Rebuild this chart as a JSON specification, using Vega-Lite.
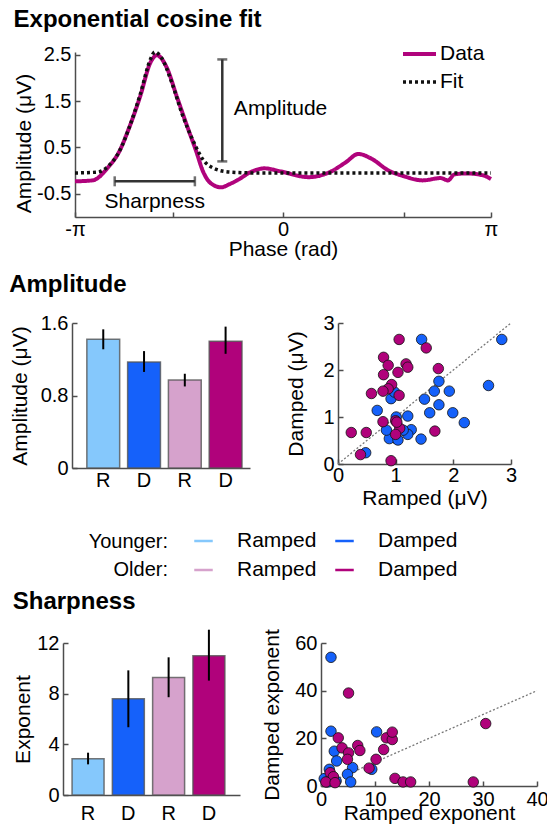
{
  "$schema": "https://vega.github.io/schema/vega-lite/v6.json",
  "background": "white",
  "padding": {"left": 9, "top": 8, "right": 5, "bottom": 5},
  "config": {
    "font": "Liberation Sans",
    "view": {"stroke": null},
    "axis": {
      "labelFont": "Liberation Sans", "titleFont": "Liberation Sans",
      "labelFontSize": 20, "titleFontSize": 21, "titleFontWeight": "normal",
      "labelColor": "#000", "titleColor": "#000",
      "domainColor": "#4d4d4d", "tickColor": "#4d4d4d", "domainWidth": 1.5, "tickWidth": 1.5,
      "tickSize": -5, "labelPadding": 9, "grid": false, "labelFlush": false, "labelOverlap": false
    },
    "legend": {"labelFont": "Liberation Sans", "titleFont": "Liberation Sans"},
    "title": {"font": "Liberation Sans", "fontSize": 24, "fontWeight": "bold", "anchor": "start", "frame": "bounds", "color": "#000"}
  },
  "resolve": {"scale": {"color": "independent", "strokeDash": "independent", "strokeWidth": "independent"}, "legend": {"color": "independent", "strokeDash": "independent"}},
  "spacing": 14,
  "align": "none",
  "vconcat": [
    {
      "title": {"text": "Exponential cosine fit", "offset": 12},
      "width": 428, "height": 165,
      "layer": [
        {
          "data": {"values": [
            {"series": "Data", "phase": -3.1416, "v": -0.23},
            {"series": "Data", "phase": -2.877, "v": -0.21},
            {"series": "Data", "phase": -2.637, "v": 0.08},
            {"series": "Data", "phase": -2.478, "v": 0.40},
            {"series": "Data", "phase": -2.320, "v": 0.94},
            {"series": "Data", "phase": -2.160, "v": 1.59},
            {"series": "Data", "phase": -2.000, "v": 2.34},
            {"series": "Data", "phase": -1.905, "v": 2.49},
            {"series": "Data", "phase": -1.761, "v": 2.24},
            {"series": "Data", "phase": -1.602, "v": 1.59},
            {"series": "Data", "phase": -1.443, "v": 0.94},
            {"series": "Data", "phase": -1.316, "v": 0.44},
            {"series": "Data", "phase": -1.204, "v": -0.03},
            {"series": "Data", "phase": -1.092, "v": -0.27},
            {"series": "Data", "phase": -0.933, "v": -0.36},
            {"series": "Data", "phase": -0.806, "v": -0.29},
            {"series": "Data", "phase": -0.693, "v": -0.21},
            {"series": "Data", "phase": -0.486, "v": -0.03},
            {"series": "Data", "phase": -0.280, "v": 0.05},
            {"series": "Data", "phase": -0.056, "v": -0.01},
            {"series": "Data", "phase": 0.390, "v": -0.14},
            {"series": "Data", "phase": 0.708, "v": -0.03},
            {"series": "Data", "phase": 0.948, "v": 0.18},
            {"series": "Data", "phase": 1.138, "v": 0.36},
            {"series": "Data", "phase": 1.346, "v": 0.25},
            {"series": "Data", "phase": 1.585, "v": 0.01},
            {"series": "Data", "phase": 1.824, "v": -0.12},
            {"series": "Data", "phase": 2.110, "v": -0.21},
            {"series": "Data", "phase": 2.381, "v": -0.16},
            {"series": "Data", "phase": 2.493, "v": -0.21},
            {"series": "Data", "phase": 2.589, "v": -0.08},
            {"series": "Data", "phase": 2.781, "v": -0.06},
            {"series": "Data", "phase": 3.019, "v": -0.10},
            {"series": "Data", "phase": 3.1416, "v": -0.18},
            {"series": "Fit", "phase": -3.1416, "v": -0.05},
            {"series": "Fit", "phase": -2.798, "v": -0.03},
            {"series": "Fit", "phase": -2.637, "v": 0.10},
            {"series": "Fit", "phase": -2.478, "v": 0.40},
            {"series": "Fit", "phase": -2.320, "v": 0.94},
            {"series": "Fit", "phase": -2.160, "v": 1.63},
            {"series": "Fit", "phase": -2.000, "v": 2.41},
            {"series": "Fit", "phase": -1.937, "v": 2.56},
            {"series": "Fit", "phase": -1.841, "v": 2.45},
            {"series": "Fit", "phase": -1.682, "v": 1.91},
            {"series": "Fit", "phase": -1.523, "v": 1.22},
            {"series": "Fit", "phase": -1.363, "v": 0.66},
            {"series": "Fit", "phase": -1.204, "v": 0.23},
            {"series": "Fit", "phase": -1.045, "v": 0.05},
            {"series": "Fit", "phase": -0.806, "v": -0.03},
            {"series": "Fit", "phase": -0.407, "v": -0.05},
            {"series": "Fit", "phase": 3.1416, "v": -0.05}
          ]},
          "mark": {"type": "line", "interpolate": "monotone"},
          "encoding": {
            "x": {"field": "phase", "type": "quantitative", "title": "Phase (rad)",
              "scale": {"domain": [-3.14159, 3.14159], "range": [12, 428], "nice": false, "zero": false},
              "axis": {"values": [-3.14159, -1.665, 0, 1.832, 3.14159],
                "labelExpr": "datum.value < -3 ? '-π' : (datum.value > 3 ? 'π' : (datum.value == 0 ? '0' : ''))",
                "labelPadding": 7, "titlePadding": -1}},
            "y": {"field": "v", "type": "quantitative", "title": "Amplitude (μV)",
              "scale": {"domain": [-1, 2.56], "nice": false, "zero": false},
              "axis": {"offset": -12, "values": [-0.5, 0, 0.5, 1, 1.5, 2, 2.5],
                "labelExpr": "abs(round(datum.value*2)) % 2 == 1 ? (datum.value < 0 ? '-' : '') + format(abs(datum.value), '.1f') : ''",
                "titlePadding": 2, "titleY": 91}},
            "color": {"field": "series", "type": "nominal",
              "scale": {"domain": ["Data", "Fit"], "range": ["#b0037c", "#111111"]},
              "legend": {"orient": "none", "legendX": 338, "legendY": -8, "title": null,
                "symbolType": "stroke", "symbolSize": 1089, "symbolStrokeWidth": 4,
                "labelFontSize": 21, "labelColor": "#000", "labelOffset": 2, "clipHeight": 20, "rowPadding": 7}},
            "strokeDash": {"field": "series", "type": "nominal",
              "scale": {"domain": ["Data", "Fit"], "range": [[1, 0], [3, 3]]}},
            "strokeWidth": {"field": "series", "type": "nominal",
              "scale": {"domain": ["Data", "Fit"], "range": [4, 3.5]}, "legend": null}
          }
        },
        {
          "data": {"values": [{"x": -0.917, "lo": 0.2, "hi": 2.4}]},
          "mark": {"type": "errorbar", "ticks": true, "size": 10, "thickness": 2.5, "color": "#333"},
          "encoding": {
            "x": {"field": "x", "type": "quantitative", "title": "Phase (rad)"},
            "y": {"field": "lo", "type": "quantitative", "title": "Amplitude (μV)"},
            "y2": {"field": "hi"}
          }
        },
        {
          "data": {"values": [{"a": -2.542, "b": -1.331, "y": -0.23}]},
          "mark": {"type": "errorbar", "ticks": true, "size": 10, "thickness": 2.5, "color": "#333"},
          "encoding": {
            "x": {"field": "a", "type": "quantitative", "title": "Phase (rad)"},
            "x2": {"field": "b"},
            "y": {"field": "y", "type": "quantitative", "title": "Amplitude (μV)"}
          }
        },
        {
          "data": {"values": [{"t": "Amplitude", "x": -0.742, "y": 1.33}]},
          "mark": {"type": "text", "align": "left", "baseline": "middle", "fontSize": 21, "font": "Liberation Sans", "color": "#000"},
          "encoding": {
            "x": {"field": "x", "type": "quantitative", "title": "Phase (rad)"},
            "y": {"field": "y", "type": "quantitative", "title": "Amplitude (μV)"},
            "text": {"field": "t"}
          }
        },
        {
          "data": {"values": [{"t": "Sharpness", "x": -1.937, "y": -0.68}]},
          "mark": {"type": "text", "align": "center", "baseline": "middle", "fontSize": 21, "font": "Liberation Sans", "color": "#000"},
          "encoding": {
            "x": {"field": "x", "type": "quantitative", "title": "Phase (rad)"},
            "y": {"field": "y", "type": "quantitative", "title": "Amplitude (μV)"},
            "text": {"field": "t"}
          }
        }
      ]
    },
    {
      "spacing": 81,
      "align": "none",
      "vconcat": [
        {
          "title": {"text": "Amplitude", "offset": 16},
          "spacing": 35,
          "hconcat": [
            {
              "width": 187, "height": 145,
              "data": {"values": [
                {"g": "YR", "v": 1.42, "lo": 1.31, "hi": 1.53},
                {"g": "YD", "v": 1.17, "lo": 1.06, "hi": 1.29},
                {"g": "OR", "v": 0.97, "lo": 0.90, "hi": 1.04},
                {"g": "OD", "v": 1.40, "lo": 1.26, "hi": 1.56}
              ]},
              "layer": [
                {
                  "mark": {"type": "bar", "stroke": "#555", "strokeWidth": 1.5, "strokeOpacity": 0.8},
                  "encoding": {
                    "x": {"field": "g", "type": "nominal", "sort": null, "title": null,
                      "scale": {"domain": ["YR", "YD", "OR", "OD"], "range": [9, 187], "paddingInner": 0.195, "paddingOuter": 0.28, "align": 0.65},
                      "axis": {"ticks": false, "labelAngle": 0, "labelPadding": 2,
                        "labelExpr": "substring(datum.label, 1, 2)"}},
                    "y": {"field": "v", "type": "quantitative", "title": "Amplitude (μV)",
                      "scale": {"domain": [0, 1.6], "nice": false},
                      "axis": {"offset": -9, "values": [0, 0.2, 0.4, 0.6, 0.8, 1, 1.2, 1.4, 1.6],
                        "labelExpr": "round(datum.value*10) % 4 == 0 ? (datum.value == 0 ? '0' : format(datum.value, '.1f')) : ''",
                        "titlePadding": 10}},
                    "color": {"field": "g", "type": "nominal",
                      "scale": {"domain": ["YR", "YD", "OR", "OD"], "range": ["#85c8fc", "#1561fa", "#d6a2cc", "#b0027b"]},
                      "legend": {"orient": "none", "legendX": 26, "legendY": 208, "columns": 2, "direction": "horizontal",
                        "symbolType": "M-0.5,-0.07H0.5V0.07H-0.5Z", "symbolSize": 1369, "symbolStrokeWidth": 0, "symbolOpacity": 1,
                        "clipHeight": 20, "rowPadding": 8, "columnPadding": 9, "labelOffset": 15,
                        "labelFontSize": 21, "labelColor": "#000",
                        "labelExpr": "substring(datum.label, 1, 2) == 'R' ? 'Ramped' : 'Damped'",
                        "title": ["Younger:", "Older:"], "titleOrient": "left", "titlePadding": -63,
                        "titleFontSize": 20, "titleFontWeight": "normal", "titleColor": "#000",
                        "titleLineHeight": 28, "titleAlign": "right"}}
                  }
                },
                {
                  "mark": {"type": "rule", "color": "#000", "strokeWidth": 2},
                  "encoding": {
                    "x": {"field": "g", "type": "nominal", "sort": null, "title": null},
                    "y": {"field": "lo", "type": "quantitative", "title": "Amplitude (μV)"},
                    "y2": {"field": "hi"}
                  }
                }
              ]
            },
            {
              "width": 173, "height": 141,
              "layer": [
                {
                  "data": {"values": [{"x": 0, "y": 0}, {"x": 3, "y": 3}]},
                  "mark": {"type": "line", "color": "#777", "strokeDash": [2, 2], "strokeWidth": 1.3},
                  "encoding": {
                    "x": {"field": "x", "type": "quantitative", "title": "Ramped (μV)", "scale": {"domain": [0, 3], "nice": false},
                      "axis": {"values": [0, 0.5, 1, 1.5, 2, 2.5, 3],
                        "labelExpr": "datum.value % 1 == 0 ? format(datum.value, 'd') : ''", "labelPadding": 6, "titlePadding": 2}},
                    "y": {"field": "y", "type": "quantitative", "title": "Damped (μV)", "scale": {"domain": [0, 3], "nice": false},
                      "axis": {"values": [0, 0.5, 1, 1.5, 2, 2.5, 3],
                        "labelExpr": "datum.value % 1 == 0 ? format(datum.value, 'd') : ''", "titlePadding": 16}}
                  }
                },
                {
                  "data": {"values": [
                    {"g": "YD", "x": 1.45, "y": 2.65}, {"g": "YD", "x": 2.84, "y": 2.65}, {"g": "YD", "x": 2.61, "y": 1.67},
                    {"g": "YD", "x": 1.75, "y": 1.76}, {"g": "YD", "x": 1.67, "y": 1.55}, {"g": "YD", "x": 1.93, "y": 1.55},
                    {"g": "YD", "x": 1.50, "y": 1.38}, {"g": "YD", "x": 1.75, "y": 1.26}, {"g": "YD", "x": 1.59, "y": 1.09},
                    {"g": "YD", "x": 1.99, "y": 1.09}, {"g": "YD", "x": 2.19, "y": 0.88}, {"g": "YD", "x": 1.44, "y": 0.53},
                    {"g": "YD", "x": 0.68, "y": 1.14}, {"g": "YD", "x": 0.92, "y": 1.39}, {"g": "YD", "x": 0.98, "y": 1.53},
                    {"g": "YD", "x": 1.01, "y": 1.00}, {"g": "YD", "x": 1.21, "y": 1.02}, {"g": "YD", "x": 1.27, "y": 0.73},
                    {"g": "YD", "x": 1.21, "y": 0.63}, {"g": "YD", "x": 1.01, "y": 0.54}, {"g": "YD", "x": 0.89, "y": 0.54},
                    {"g": "YD", "x": 0.84, "y": 0.72}, {"g": "YD", "x": 1.04, "y": 0.51}, {"g": "YD", "x": 0.48, "y": 0.24},
                    {"g": "YD", "x": 1.13, "y": 0.72},
                    {"g": "OD", "x": 1.06, "y": 2.65}, {"g": "OD", "x": 1.53, "y": 2.47}, {"g": "OD", "x": 0.79, "y": 2.27},
                    {"g": "OD", "x": 0.87, "y": 2.10}, {"g": "OD", "x": 1.18, "y": 2.13}, {"g": "OD", "x": 1.21, "y": 2.06},
                    {"g": "OD", "x": 0.79, "y": 1.90}, {"g": "OD", "x": 1.04, "y": 1.95}, {"g": "OD", "x": 1.74, "y": 2.03},
                    {"g": "OD", "x": 0.93, "y": 1.69}, {"g": "OD", "x": 0.87, "y": 1.60}, {"g": "OD", "x": 0.78, "y": 1.55},
                    {"g": "OD", "x": 0.58, "y": 1.50}, {"g": "OD", "x": 1.06, "y": 1.46}, {"g": "OD", "x": 0.78, "y": 0.90},
                    {"g": "OD", "x": 1.00, "y": 0.92}, {"g": "OD", "x": 1.07, "y": 0.76}, {"g": "OD", "x": 1.00, "y": 0.63},
                    {"g": "OD", "x": 0.23, "y": 0.67}, {"g": "OD", "x": 0.49, "y": 0.67}, {"g": "OD", "x": 0.39, "y": 0.20},
                    {"g": "OD", "x": 0.92, "y": 0.07}, {"g": "OD", "x": 1.68, "y": 0.70}, {"g": "OD", "x": 1.02, "y": 0.89}
                  ]},
                  "mark": {"type": "circle", "size": 110, "stroke": "#111", "strokeWidth": 0.8, "opacity": 1},
                  "encoding": {
                    "x": {"field": "x", "type": "quantitative", "title": "Ramped (μV)"},
                    "y": {"field": "y", "type": "quantitative", "title": "Damped (μV)"},
                    "color": {"field": "g", "type": "nominal",
                      "scale": {"domain": ["YR", "YD", "OR", "OD"], "range": ["#85c8fc", "#1561fa", "#d6a2cc", "#b0027b"]}}
                  }
                }
              ]
            }
          ]
        },
        {
          "title": {"text": "Sharpness", "offset": 15},
          "spacing": 21,
          "hconcat": [
            {
              "width": 177, "height": 152,
              "data": {"values": [
                {"g": "YR", "v": 2.87, "lo": 2.42, "hi": 3.34},
                {"g": "YD", "v": 7.59, "lo": 5.35, "hi": 9.84},
                {"g": "OR", "v": 9.27, "lo": 7.72, "hi": 10.87},
                {"g": "OD", "v": 11.0, "lo": 9.03, "hi": 13.05}
              ]},
              "layer": [
                {
                  "mark": {"type": "bar", "stroke": "#555", "strokeWidth": 1.5, "strokeOpacity": 0.8},
                  "encoding": {
                    "x": {"field": "g", "type": "nominal", "sort": null, "title": null,
                      "scale": {"domain": ["YR", "YD", "OR", "OD"], "paddingInner": 0.206, "paddingOuter": 0.3, "align": 0.375},
                      "axis": {"ticks": false, "labelAngle": 0, "labelPadding": 8,
                        "labelExpr": "substring(datum.label, 1, 2)"}},
                    "y": {"field": "v", "type": "quantitative", "title": "Exponent",
                      "scale": {"domain": [0, 12], "nice": false},
                      "axis": {"values": [0, 2, 4, 6, 8, 10, 12],
                        "labelExpr": "datum.value % 4 == 0 ? datum.label : ''", "titlePadding": 3}},
                    "color": {"field": "g", "type": "nominal",
                      "scale": {"domain": ["YR", "YD", "OR", "OD"], "range": ["#85c8fc", "#1561fa", "#d6a2cc", "#b0027b"]}}
                  }
                },
                {
                  "mark": {"type": "rule", "color": "#000", "strokeWidth": 2},
                  "encoding": {
                    "x": {"field": "g", "type": "nominal", "sort": null, "title": null},
                    "y": {"field": "lo", "type": "quantitative", "title": "Exponent"},
                    "y2": {"field": "hi"}
                  }
                }
              ]
            },
            {
              "width": 216, "height": 143,
              "layer": [
                {
                  "data": {"values": [{"x": 0, "y": 0}, {"x": 40, "y": 40}]},
                  "mark": {"type": "line", "color": "#777", "strokeDash": [2, 2], "strokeWidth": 1.3},
                  "encoding": {
                    "x": {"field": "x", "type": "quantitative", "title": "Ramped exponent", "scale": {"domain": [0, 40], "nice": false},
                      "axis": {"values": [0, 5, 10, 15, 20, 25, 30, 35, 40],
                        "labelExpr": "datum.value % 10 == 0 ? datum.label : ''", "labelPadding": 8, "titlePadding": -7}},
                    "y": {"field": "y", "type": "quantitative", "title": "Damped exponent", "scale": {"domain": [0, 60], "nice": false},
                      "axis": {"values": [0, 10, 20, 30, 40, 50, 60],
                        "labelExpr": "datum.value % 20 == 0 ? datum.label : ''", "titlePadding": 12}}
                  }
                },
                {
                  "data": {"values": [
                    {"g": "YD", "x": 1.85, "y": 54.0}, {"g": "YD", "x": 1.85, "y": 23.0}, {"g": "YD", "x": 10.3, "y": 22.7},
                    {"g": "YD", "x": 2.46, "y": 14.6}, {"g": "YD", "x": 2.9, "y": 10.5}, {"g": "YD", "x": 1.54, "y": 7.0},
                    {"g": "YD", "x": 5.85, "y": 7.7}, {"g": "YD", "x": 4.9, "y": 4.9}, {"g": "YD", "x": 5.5, "y": 1.7},
                    {"g": "YD", "x": 0.6, "y": 3.1}, {"g": "YD", "x": 9.4, "y": 7.0}, {"g": "YD", "x": 2.8, "y": 2.1},
                    {"g": "YD", "x": 1.2, "y": 1.7},
                    {"g": "OD", "x": 5.1, "y": 39.0}, {"g": "OD", "x": 30.5, "y": 26.2}, {"g": "OD", "x": 3.2, "y": 20.2},
                    {"g": "OD", "x": 6.8, "y": 17.0}, {"g": "OD", "x": 7.2, "y": 14.9}, {"g": "OD", "x": 3.9, "y": 16.0},
                    {"g": "OD", "x": 5.1, "y": 13.9}, {"g": "OD", "x": 4.9, "y": 11.2}, {"g": "OD", "x": 12.1, "y": 20.2},
                    {"g": "OD", "x": 13.2, "y": 19.5}, {"g": "OD", "x": 13.2, "y": 22.6}, {"g": "OD", "x": 11.6, "y": 15.3},
                    {"g": "OD", "x": 10.2, "y": 11.2}, {"g": "OD", "x": 8.9, "y": 7.5}, {"g": "OD", "x": 13.7, "y": 3.2},
                    {"g": "OD", "x": 15.2, "y": 1.7}, {"g": "OD", "x": 16.6, "y": 1.7}, {"g": "OD", "x": 28.2, "y": 1.7},
                    {"g": "OD", "x": 1.7, "y": 5.6}, {"g": "OD", "x": 2.3, "y": 3.9}, {"g": "OD", "x": 0.9, "y": 1.7},
                    {"g": "OD", "x": 2.6, "y": 1.4}
                  ]},
                  "mark": {"type": "circle", "size": 110, "stroke": "#111", "strokeWidth": 0.8, "opacity": 1},
                  "encoding": {
                    "x": {"field": "x", "type": "quantitative", "title": "Ramped exponent"},
                    "y": {"field": "y", "type": "quantitative", "title": "Damped exponent"},
                    "color": {"field": "g", "type": "nominal",
                      "scale": {"domain": ["YR", "YD", "OR", "OD"], "range": ["#85c8fc", "#1561fa", "#d6a2cc", "#b0027b"]}}
                  }
                }
              ]
            }
          ]
        }
      ]
    }
  ]
}
